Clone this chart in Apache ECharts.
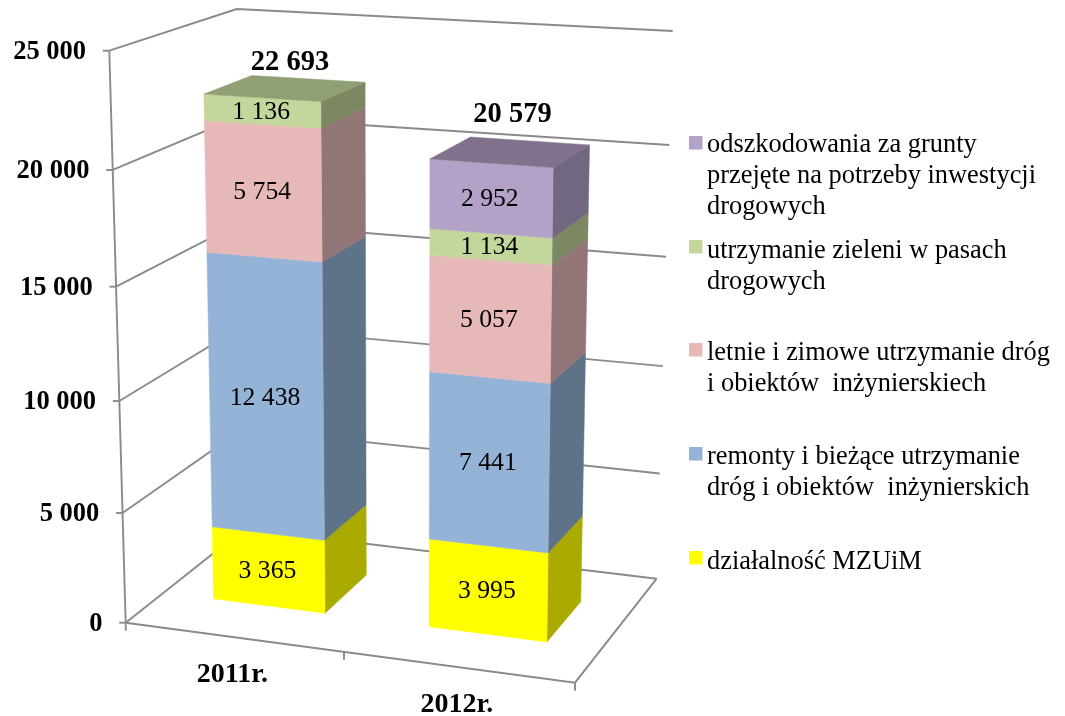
<!DOCTYPE html>
<html><head><meta charset="utf-8">
<style>html,body{margin:0;padding:0;background:#fff}#c{width:1065px;height:716px}</style>
<script src="https://cdn.jsdelivr.net/npm/echarts@6/dist/echarts.min.js"></script>
</head><body><div id="c"></div>
<script>
// ---- data ----
const categories = ['2011r.', '2012r.'];
const dzialalnosc = [3365, 3995];
const remonty = [12438, 7441];
const letnie = [5754, 5057];
const zielen = [1136, 1134];
const odszkodowania = [null, 2952];
const totals = [22693, 20579];
const yTicks = [0, 5000, 10000, 15000, 20000, 25000];
const yTickLabels = ['0', '5 000', '10 000', '15 000', '20 000', '25 000'];
const seriesNames = ['działalność MZUiM', 'remonty i bieżące utrzymanie dróg i obiektów inżynierskich',
  'letnie i zimowe utrzymanie dróg i obiektów inżynierskiech', 'utrzymanie zieleni w pasach drogowych',
  'odszkodowania za grunty przejęte na potrzeby inwestycji drogowych'];
const legendLines = [
  'działalność MZUiM',
  'remonty i bieżące utrzymanie\ndróg i obiektów  inżynierskich',
  'letnie i zimowe utrzymanie dróg\ni obiektów  inżynierskiech',
  'utrzymanie zieleni w pasach\ndrogowych',
  'odszkodowania za grunty\nprzejęte na potrzeby inwestycji\ndrogowych'
];
const seriesValues = [dzialalnosc, remonty, letnie, zielen, odszkodowania];
const colors = ['#FFFF00', '#95B3D7', '#E6B9B8', '#C3D69B', '#B3A2C7'];
const sideColors = ['#AAAA00', '#5E7288', '#927576', '#7C8862', '#726780'];
const topColors = ['#BFBF00', '#70869F', '#AD8B8A', '#919F74', '#80728C'];

// ---- look ----
const AXIS = '#8A8A8A';
const SERIF = '"Liberation Serif", "Times New Roman", serif';
const LABEL_FONT = '25.7px ' + SERIF;
const AXIS_FONT = 'bold 26.5px ' + SERIF;
const CAT_FONT = 'bold 28px ' + SERIF;
const TOTAL_FONT = 'bold 28.5px ' + SERIF;
const LEGEND_FONT = '26.4px ' + SERIF;
const GRID = {left: 100, top: 20, width: 500, height: 600};
const BAR_HALF = 0.131, D0 = 0.304, D1 = 0.696;
const TOTAL_OFFSET = [[-18, -16], [-17, -26]];
const LEGEND_POS = [[689, 551, 707, 547], [689, 447, 707, 441.5], [689, 343, 707, 338], [689, 240, 707, 235.5], [689, 136, 707, 129.5]];

// ---- box perspective: corners of the chart box, homogeneous weights ----
const CORNERS = {
  '000': [125.7, 622.7], '100': [575, 682.7], '001': [244, 529], '101': [656.7, 578.7],
  '010': [109.3, 50.7], '110': [583.2, 79], '011': [236.7, 9], '111': [672.7, 31]
};
const WA = -0.055, WB = -0.0508, WC = 0.095;
function proj(u, v, d) {
  let X = 0, Y = 0, W = 0;
  for (const i of [0, 1]) for (const j of [0, 1]) for (const k of [0, 1]) {
    const b = (i ? u : 1 - u) * (j ? v : 1 - v) * (k ? d : 1 - d);
    const w = 1 + WA * i + WB * j + WC * k;
    const p = CORNERS['' + i + j + k];
    X += b * w * p[0]; Y += b * w * p[1]; W += b * w;
  }
  return [X / W, Y / W];
}
// normalised position from the (hidden) library axes
function norm(api, cat, val) {
  const c = api.coord([cat, val]);
  return [(c[0] - GRID.left) / GRID.width, (GRID.top + GRID.height - c[1]) / GRID.height];
}
const poly = (points, fill) => ({type: 'polygon', shape: {points}, style: {fill, stroke: fill, lineWidth: 0.5}});
const line = (points) => ({type: 'polyline', shape: {points}, style: {stroke: AXIS, lineWidth: 1.9, fill: null}});
const text = (t, x, y, font, align) => ({type: 'text', style: {text: t, x, y, font, fill: '#000', align: align || 'center', verticalAlign: 'middle'}});

function renderFrame(params, api) {
  const ch = [];
  yTicks.forEach((t, i) => {
    const v = norm(api, 0, t)[1];
    const front = proj(0, v, 0), back = proj(0, v, 1), right = proj(1, v, 1);
    ch.push(line([front, back, right]));
    ch.push(line([[front[0] - 6.5, front[1]], front]));
    ch.push(text(yTickLabels[i], front[0] - 23.3, front[1] + 1.5, AXIS_FONT, 'right'));
  });
  ch.push(line([proj(0, 0, 0), proj(0, 1, 0)]));
  ch.push(line([proj(0, 0, 0), proj(1, 0, 0), proj(1, 0, 1)]));
  [0, 0.5, 1].forEach(u => { const p = proj(u, 0, 0); ch.push(line([p, [p[0], p[1] + 8]])); });
  categories.forEach((c, i) => {
    const p = proj(norm(api, i, 0)[0], 0, 0);
    ch.push(text(c, p[0] - 1, p[1] + 38, CAT_FONT));
  });
  return {type: 'group', children: ch};
}

function renderSegment(s) {
  return function (params, api) {
    const cat = api.value(0), start = api.value(1), end = api.value(2);
    if (!(end > start)) return null;
    const a = norm(api, cat, start), b = norm(api, cat, end);
    const u0 = a[0] - BAR_HALF, u1 = a[0] + BAR_HALF, v0 = a[1], v1 = b[1];
    const ch = [
      poly([proj(u1, v0, D0), proj(u1, v0, D1), proj(u1, v1, D1), proj(u1, v1, D0)], sideColors[s]),
      poly([proj(u0, v0, D0), proj(u1, v0, D0), proj(u1, v1, D0), proj(u0, v1, D0)], colors[s])
    ];
    const m = proj(a[0], (v0 + v1) / 2, D0);
    ch.push(text(String(end - start).replace(/(\d)(\d{3})$/, '$1 $2'), m[0] - 1, m[1] + 1, LABEL_FONT));
    if (Math.abs(end - totals[cat]) < 0.5) {
      ch.push(poly([proj(u0, v1, D0), proj(u1, v1, D0), proj(u1, v1, D1), proj(u0, v1, D1)], topColors[s]));
      const tp = proj(a[0], v1, D1);
      ch.push(text(String(totals[cat]).replace(/(\d)(\d{3})$/, '$1 $2'), tp[0] + TOTAL_OFFSET[cat][0], tp[1] + TOTAL_OFFSET[cat][1], TOTAL_FONT));
    }
    return {type: 'group', children: ch};
  };
}

const base = categories.map(() => 0);
const segSeries = seriesValues.map((vals, s) => {
  const data = vals.map((v, i) => {
    const st = base[i]; base[i] += v || 0;
    return [i, st, base[i]];
  });
  return {type: 'custom', name: seriesNames[s], renderItem: renderSegment(s), data, clip: false,
    silent: true, encode: {x: 0, y: [1, 2]}, coordinateSystem: 'cartesian2d'};
});

const legendGraphic = [];
legendLines.forEach((t, i) => {
  const p = LEGEND_POS[i];
  legendGraphic.push({type: 'rect', shape: {x: p[0], y: p[1], width: 13.5, height: 13.5}, style: {fill: colors[i]}});
  legendGraphic.push({type: 'text', style: {text: t, x: p[2], y: p[3], font: LEGEND_FONT, lineHeight: 31, fill: '#000', align: 'left', verticalAlign: 'top'}});
});

const chart = echarts.init(document.getElementById('c'), null, {renderer: 'canvas'});
chart.setOption({
  animation: false,
  backgroundColor: '#fff',
  tooltip: {show: false},
  grid: GRID,
  xAxis: {type: 'category', data: categories, show: false},
  yAxis: {type: 'value', min: 0, max: 25000, interval: 5000, show: false},
  graphic: legendGraphic,
  series: [{type: 'custom', name: 'frame', renderItem: renderFrame, data: [[0, 0]], clip: false, silent: true}].concat(segSeries)
});
</script></body></html>
